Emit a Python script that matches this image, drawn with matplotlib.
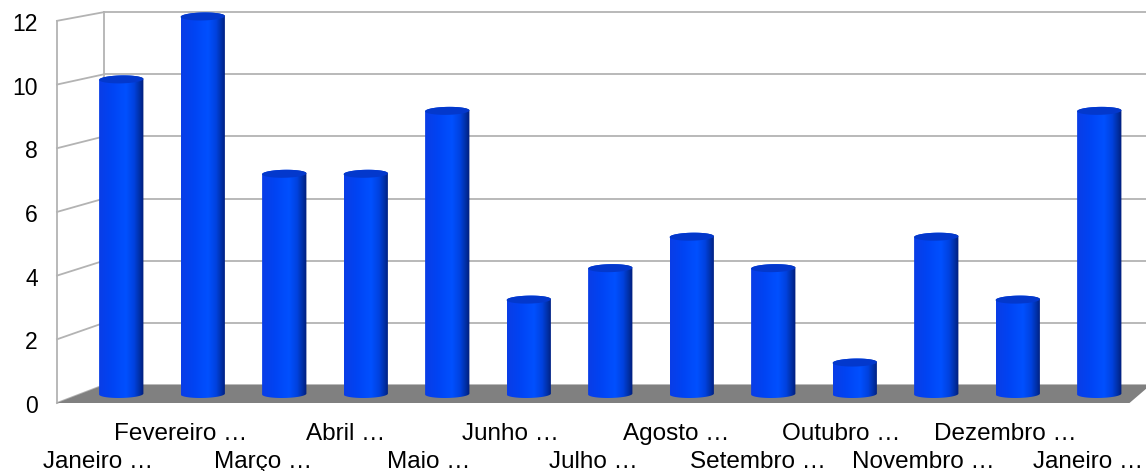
import matplotlib

matplotlib.use("Agg")
import matplotlib.pyplot as plt
import numpy as np
from matplotlib.colors import LinearSegmentedColormap
from matplotlib.patches import Polygon

months = [
    "Janeiro …", "Fevereiro …", "Março …", "Abril …", "Maio …", "Junho …",
    "Julho …", "Agosto …", "Setembro …", "Outubro …", "Novembro …",
    "Dezembro …", "Janeiro …",
]
counts = [10, 12, 7, 7, 9, 3, 4, 5, 4, 1, 5, 3, 9]
y_ticks = [0, 2, 4, 6, 8, 10, 12]

# pseudo-3D box: depth d=-1 is the front edge, d=+1 the back wall
PERSP = 0.0123
SHIFT_X = 0.2885
SHIFT_Y = 0.286

# cylinder cross-section (data units)
RADIUS_X = 0.27
RADIUS_Y = 0.127
SKEW = 0.03

GRID = "#b3b3b3"
FLOOR = "#808080"
CAP = "#0338cc"
FONT = "Liberation Sans"

bar_cmap = LinearSegmentedColormap.from_list(
    "cyl",
    [(0.0, "#0a3de6"), (0.3, "#0044f4"), (0.6, "#0050ff"),
     (0.78, "#0042e0"), (0.9, "#0030a8"), (1.0, "#001c78")],
)


def project(x, v, d):
    s = 1 - PERSP * d
    return x * s + SHIFT_X * d, v * s + SHIFT_Y * d


def draw_walls(ax, n, top):
    # back wall gridlines and left side wall
    for t in y_ticks:
        x0, y0 = project(0, t, 1)
        x1, y1 = project(n + 2, t, 1)
        ax.plot([x0, x1], [y0, y1], color=GRID, lw=1.3, zorder=1)
        fx, fy = project(0, t, -1)
        ax.plot([fx, x0], [fy, y0], color=GRID, lw=1.3, zorder=1)
    for d in (-1, 1):
        xa, ya = project(0, 0, d)
        xb, yb = project(0, top, d)
        ax.plot([xa, xb], [ya, yb], color=GRID, lw=1.3, zorder=1)

    corners = [project(0, 0, -1), project(n, 0, -1), project(n, 0, 1), project(0, 0, 1)]
    ax.add_patch(Polygon(corners, closed=True, facecolor=FLOOR, edgecolor="none", zorder=2))


def draw_cylinder(ax, xc, top):
    phi = np.arctan2(SKEW, RADIUS_X)
    lo = np.linspace(np.pi + phi, 2 * np.pi + phi, 90)
    hi = np.linspace(phi, np.pi + phi, 90)

    def ring(t, v):
        return np.column_stack([
            xc + RADIUS_X * np.cos(t) + SKEW * np.sin(t),
            v + RADIUS_Y * np.sin(t),
        ])

    body = np.vstack([ring(lo, 0.0), ring(hi, top)])
    patch = Polygon(body, closed=True, facecolor="none", edgecolor="none", zorder=3)
    ax.add_patch(patch)

    half = np.hypot(RADIUS_X, SKEW)
    grad = np.linspace(0, 1, 256).reshape(1, -1)
    im = ax.imshow(
        grad, cmap=bar_cmap, aspect="auto", interpolation="bilinear",
        extent=(xc - half, xc + half, -RADIUS_Y, top + RADIUS_Y), zorder=3,
    )
    im.set_clip_path(patch)

    t = np.linspace(0, 2 * np.pi, 181)
    ax.add_patch(Polygon(ring(t, top), closed=True, facecolor=CAP, edgecolor="none", zorder=4))


def main() -> None:
    fig = plt.figure(figsize=(11.46, 4.71), dpi=100)
    ax = fig.add_axes([0, 0, 1, 1])
    ax.set_axis_off()

    n = len(counts)
    top = max(y_ticks)
    draw_walls(ax, n, top)

    for i, c in enumerate(counts):
        draw_cylinder(ax, i + 0.5, c)

    for t in y_ticks:
        ax.annotate(
            str(t), xy=project(0, t, -1), xytext=(-19, -10), textcoords="offset pixels",
            ha="right", va="baseline", fontsize=16.5, family=FONT, color="black",
        )

    # month labels alternate between two rows
    for i, name in enumerate(months):
        dy = -37 if i % 2 else -65
        ax.annotate(
            name, xy=project(i + 0.5, 0, -1), xytext=(0, dy), textcoords="offset pixels",
            ha="center", va="baseline", fontsize=17.5, family=FONT, color="black",
        )

    ax.set_xlim(-80.5 / 81.5, (1146 - 80.5) / 81.5)
    ax.set_ylim((394 - 471) / 31.46, 394 / 31.46)

    fig.savefig("out.png", dpi=100)
    plt.close(fig)


if __name__ == "__main__":
    main()
